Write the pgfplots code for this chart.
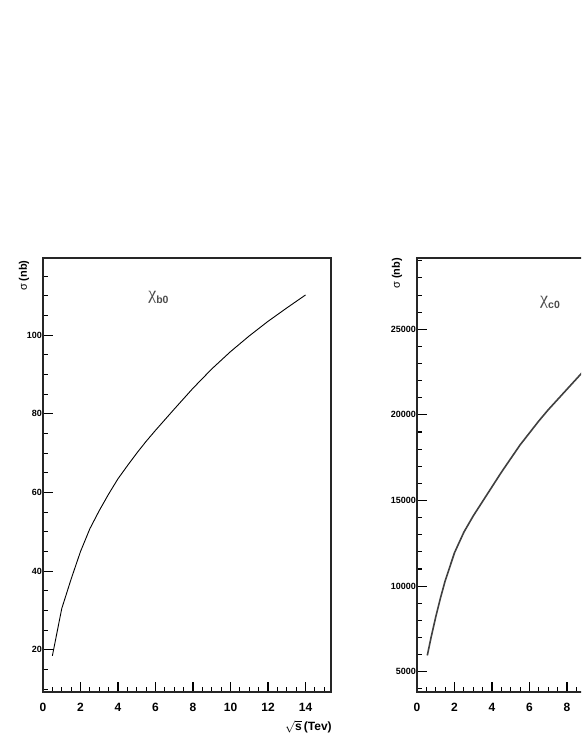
\documentclass[border=0pt]{standalone}
\usepackage{fontspec}
\setmainfont{Liberation Sans}
\newfontfamily\greekserif{Liberation Serif}
\usepackage{pgfplots}
\pgfplotsset{compat=1.18}

\pgfplotsset{
  chiaxis/.style={
    scale only axis, width=288pt, height=434pt,
    anchor=south west,
    xmin=0, xmax=15.36,
    xtick={0,2,...,14}, minor xtick={0,0.5,...,15},
    tick pos=left, tick align=inside,
    major tick length=10pt, minor tick length=5pt,
    tick style={line width=1.1pt, black},
    axis line style={line width=1.3pt, black!85},
    /pgf/number format/assume math mode=true,
    /pgf/number format/1000 sep={},
    scaled y ticks=false,
    xticklabel style={font=\fontsize{12}{12}\selectfont\bfseries, inner sep=0pt, yshift=-11pt},
    yticklabel style={font=\fontsize{9}{9}\selectfont\bfseries, inner sep=1pt},
    xlabel={$\sqrt{\mbox{\bfseries s}}$\,(Tev)},
    xlabel style={at={(axis description cs:1.003,-0.081)}, anchor=east, inner sep=0pt,
      font=\fontsize{12}{12}\selectfont\bfseries},
    ylabel={σ \textbf{(nb)}},
    ylabel style={anchor=east, inner sep=0pt, font=\fontsize{11}{11}\selectfont},
  }
}

\begin{document}
\begin{tikzpicture}
\useasboundingbox[fill=white] (0pt,0pt) rectangle (581pt,752pt);
\clip (0pt,0pt) rectangle (581pt,752pt);

% chi_b0
\begin{axis}[chiaxis, at={(43pt,60pt)},
    ymin=9.3, ymax=119.6,
    ytick={20,40,...,100}, minor ytick={10,15,...,115},
    ylabel style={at={(axis description cs:-0.066,0.995)}}]
\addplot[black, line width=0.9pt] coordinates {
  (0.5,18.5) (1,30.5) (1.5,38) (2,45) (2.5,50.8) (3,55.4) (3.5,59.6)
  (4,63.5) (4.5,66.8) (5,70) (5.5,73) (6,75.8) (7,81.2) (8,86.5)
  (9,91.4) (10,95.8) (11,99.8) (12,103.5) (13,106.9) (14,110.2)
};
\node[anchor=base west, inner sep=0pt, text=black!70] at (axis description cs:0.365,0.9055)
  {{\greekserif\fontsize{18}{18}\selectfont χ}{\fontsize{10.5}{10.5}\selectfont\bfseries\raisebox{-4.3pt}{b0}}};
\end{axis}

% chi_c0
\begin{axis}[chiaxis, at={(417pt,60pt)},
    ymin=3814, ymax=29165,
    ytick={5000,10000,...,25000}, minor ytick={4000,5000,...,29000},
    ylabel style={at={(axis description cs:-0.069,1.0)}}]
\addplot[black!75, line width=1.6pt] coordinates {
  (0.55,5950) (0.75,7000) (1,8200) (1.25,9300) (1.5,10300) (2,11950)
  (2.5,13150) (3,14100) (3.5,14950) (4,15800) (4.5,16650) (5,17450)
  (5.5,18250) (6,18950) (6.5,19650) (7,20300) (7.5,20900) (8,21500)
  (8.5,22100) (9,22700) (10,23800) (11,24850) (12,25850) (13,26800) (14,27700)
};
\node[anchor=base west, inner sep=0pt, text=black!70] at (axis description cs:0.427,0.893)
  {{\greekserif\fontsize{18}{18}\selectfont χ}{\fontsize{10.5}{10.5}\selectfont\bfseries\raisebox{-4.3pt}{c0}}};
\end{axis}
\end{tikzpicture}
\end{document}
